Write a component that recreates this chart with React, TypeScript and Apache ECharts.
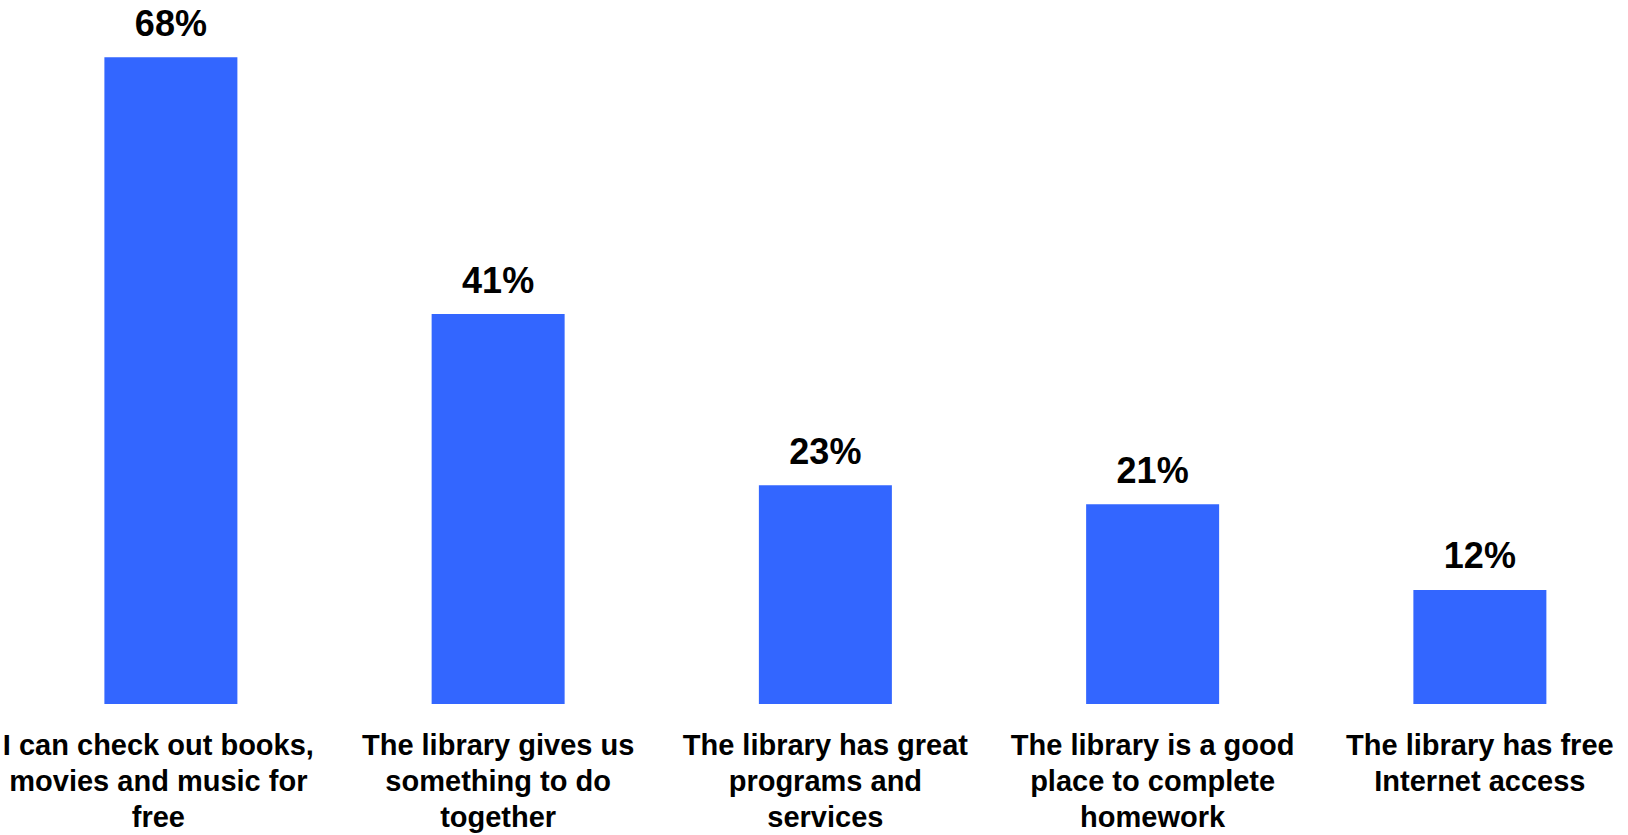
import React, { useEffect, useRef } from "react";
import * as echarts from "echarts";

const categories = [
  "I can check out books,\nmovies and music for\nfree",
  "The library gives us\nsomething to do\ntogether",
  "The library has great\nprograms and\nservices",
  "The library is a good\nplace to complete\nhomework",
  "The library has free\nInternet access",
];
const values = [68, 41, 23, 21, 12];

export default function App() {
  const ref = useRef<HTMLDivElement>(null);
  useEffect(() => {
    if (!ref.current) return;
    const chart = echarts.init(ref.current, null, { renderer: "svg" });
    const font = "'Liberation Sans', Arial, sans-serif";
    chart.setOption({
      animation: false,
      grid: { left: 6, width: 1637.5, top: 38.3, bottom: 131, containLabel: false },
      xAxis: {
        type: "category",
        data: categories,
        axisLine: { show: false },
        axisTick: { show: false },
        axisLabel: {
          interval: 0,
          margin: 23,
          color: "#000000",
          fontSize: 29,
          fontWeight: "bold",
          fontFamily: font,
          lineHeight: 36,
          formatter: (v: string, i: number) => {
            if (i === 0) {
              return v
                .split("\n")
                .map((l) => "{a|" + l + "}")
                .join("\n");
            }
            return v;
          },
          rich: {
            a: {
              fontSize: 29,
              fontWeight: "bold",
              fontFamily: font,
              lineHeight: 36,
              color: "#000000",
              padding: [0, 25, 0, 0],
            },
          },
        },
      },
      yAxis: {
        type: "value",
        min: 0,
        max: 70,
        show: false,
        splitLine: { show: false },
      },
      series: [
        {
          type: "bar",
          data: values,
          barWidth: 133,
          itemStyle: { color: "#3366FF" },
          label: {
            show: true,
            position: "top",
            distance: 16,
            formatter: "{c}%",
            color: "#000000",
            fontSize: 36,
            fontWeight: "bold",
            fontFamily: font,
          },
        },
      ],
    });
    return () => chart.dispose();
  }, []);
  return (
    <div style={{ position: "fixed", left: 0, top: 0, width: 1628, height: 835, overflow: "hidden", background: "#ffffff" }}>
      <div ref={ref} style={{ position: "absolute", left: 0, top: 0, width: 1660, height: 835 }} />
    </div>
  );
}
